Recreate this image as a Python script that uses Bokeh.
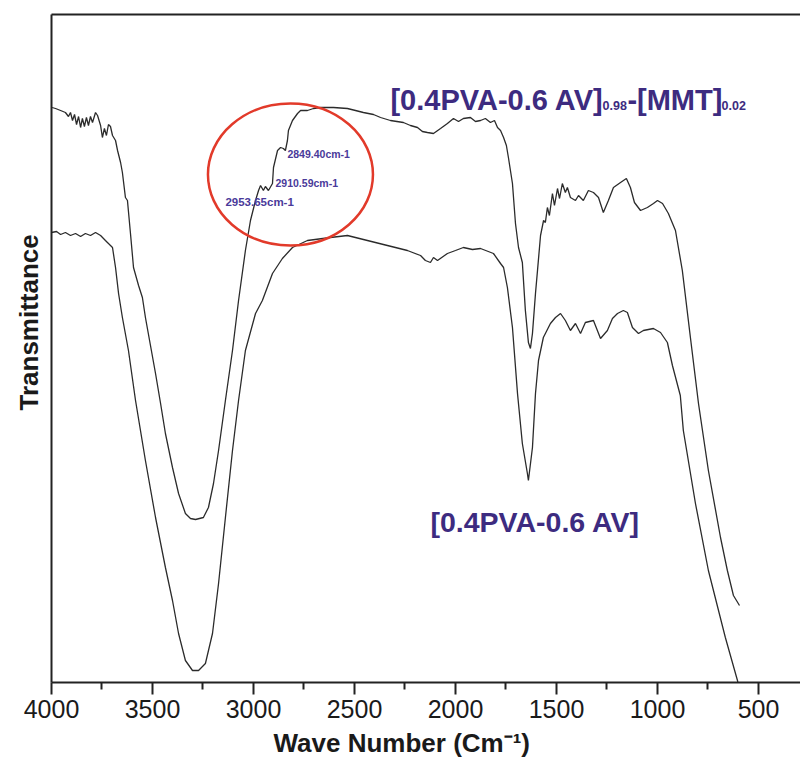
from bokeh.plotting import figure
from bokeh.models import Range1d, FixedTicker, LinearAxis, Label, Title
from bokeh.embed import file_html
from bokeh.resources import INLINE

# ---- data: wavenumber (cm-1) and transmittance (arbitrary units) ----
wn_composite = [3997, 3980, 3955, 3931, 3916, 3906, 3896, 3886, 3876, 3866, 3856, 3847, 3837, 3827,
                3817, 3807, 3797, 3782, 3772, 3757, 3748, 3738, 3728, 3718, 3708, 3698, 3683, 3673,
                3658, 3649, 3634, 3624, 3609, 3594, 3569, 3550, 3535, 3510, 3485, 3460, 3436, 3401,
                3371, 3337, 3312, 3287, 3248, 3223, 3198, 3173, 3139, 3104, 3074, 3040, 3015, 2990,
                2975, 2965, 2951, 2941, 2926, 2906, 2901, 2881, 2866, 2852, 2842, 2832, 2827, 2807,
                2782, 2767, 2733, 2703, 2668, 2604, 2535, 2495, 2456, 2406, 2371, 2322, 2258, 2223,
                2188, 2164, 2139, 2109, 2074, 2040, 2010, 1985, 1961, 1926, 1901, 1876, 1852, 1827,
                1807, 1792, 1777, 1762, 1748, 1738, 1728, 1718, 1703, 1688, 1669, 1654, 1639, 1629,
                1619, 1604, 1594, 1579, 1564, 1555, 1545, 1535, 1520, 1510, 1495, 1485, 1471, 1456,
                1446, 1431, 1406, 1391, 1367, 1342, 1317, 1292, 1268, 1243, 1218, 1183, 1154, 1134,
                1114, 1084, 1050, 1020, 1000, 975, 946, 911, 877, 837, 797, 748, 688, 654, 624, 594]
t_composite = [575, 574, 572, 570, 566, 570, 562, 568, 558, 566, 555, 564, 556, 565,
               557, 566, 560, 570, 567, 557, 545, 554, 547, 558, 556, 547, 542, 532,
               520, 510, 485, 482, 449, 415, 397, 385, 365, 337, 309, 279, 249, 215,
               189, 169, 164, 163, 165, 175, 199, 232, 282, 332, 382, 432, 462, 482,
               492, 497, 492, 496, 492, 499, 515, 532, 535, 534, 532, 542, 552, 562,
               569, 572, 572, 574, 575, 575, 574, 572, 570, 568, 565, 562, 560, 557,
               555, 551, 550, 549, 554, 559, 564, 561, 564, 565, 561, 562, 564, 560,
               562, 555, 552, 545, 537, 525, 512, 499, 459, 435, 420, 372, 340, 334,
               349, 389, 412, 447, 462, 460, 475, 467, 489, 477, 494, 484, 499, 490,
               495, 485, 482, 487, 482, 492, 490, 485, 470, 482, 495, 500, 504, 495,
               480, 472, 475, 479, 482, 479, 469, 452, 412, 345, 279, 212, 145, 112, 87, 77]

wn_pure = [4000, 3975, 3955, 3931, 3906, 3881, 3856, 3832, 3807, 3782, 3757, 3733, 3708, 3698,
           3683, 3668, 3649, 3619, 3584, 3535, 3485, 3436, 3401, 3371, 3337, 3302, 3272, 3238,
           3203, 3173, 3139, 3104, 3074, 3040, 2990, 2956, 2906, 2857, 2807, 2733, 2619, 2535,
           2436, 2337, 2238, 2173, 2149, 2124, 2109, 2089, 2040, 2000, 1961, 1916, 1876, 1812,
           1777, 1762, 1743, 1718, 1693, 1669, 1644, 1639, 1619, 1604, 1589, 1565, 1530, 1505,
           1480, 1456, 1431, 1406, 1381, 1357, 1317, 1282, 1248, 1223, 1198, 1169, 1149, 1124,
           1094, 1070, 1020, 985, 951, 926, 887, 872, 812, 748, 664, 604, 594]
t_pure = [450, 451, 448, 450, 447, 449, 446, 449, 447, 450, 447, 442, 437, 435,
          415, 389, 365, 332, 282, 222, 165, 115, 82, 49, 22, 12, 12, 19,
          49, 99, 165, 232, 282, 332, 369, 382, 409, 424, 435, 442, 445, 447,
          442, 437, 432, 427, 422, 420, 425, 422, 429, 432, 435, 433, 434, 429,
          419, 415, 395, 355, 289, 239, 209, 202, 235, 289, 322, 345, 359, 365,
          369, 362, 352, 359, 349, 360, 362, 344, 352, 364, 369, 372, 370, 355,
          349, 352, 354, 350, 340, 317, 287, 252, 179, 112, 45, 2, -8]

x_ticks = [4000, 3500, 3000, 2500, 2000, 1500, 1000, 500]
x_minor = [3750, 3250, 2750, 2250, 1750, 1250, 750]

peak_wn = [2832, 2891, 3139]
peak_t = [529, 500, 481]
peak_text = ["2849.40cm-1", "2910.59cm-1", "2953.65cm-1"]

circle_center = (2817, 508)

FONT = "Liberation Sans"
LABEL_COLOR = "#3d2b80"
INK = "#1a1a1a"

p = figure(width=800, height=770, x_range=Range1d(4000, 292), y_range=Range1d(0, 668),
           output_backend="svg", toolbar_location=None,
           min_border_left=51, min_border_right=0, min_border_top=14, min_border_bottom=88)
p.outline_line_color = None
p.grid.visible = False
p.background_fill_color = "white"
p.border_fill_color = "white"

# curves
p.line(wn_composite, t_composite, line_color="#2b2b2b", line_width=1.3)
p.line(wn_pure, t_pure, line_color="#2b2b2b", line_width=1.3)

# red circle
p.ellipse(x=[circle_center[0]], y=[circle_center[1]], width=165, height=142,
          width_units="screen", height_units="screen",
          fill_color=None, line_color="#e23a2a", line_width=2.5)

# bottom axis
xa = p.xaxis[0]
xa.ticker = FixedTicker(ticks=x_ticks, minor_ticks=x_minor)
xa.axis_line_width = 2
xa.axis_line_color = "#222222"
xa.major_tick_out = 12
xa.major_tick_in = 0
xa.minor_tick_out = 7
xa.minor_tick_in = 0
xa.major_tick_line_width = 2
xa.minor_tick_line_width = 2
xa.major_tick_line_color = "#222222"
xa.minor_tick_line_color = "#222222"
xa.major_label_text_font = FONT
xa.major_label_text_font_size = "25px"
xa.major_label_text_color = INK
xa.major_label_standoff = 5

# left axis
ya = p.yaxis[0]
ya.ticker = FixedTicker(ticks=[])
ya.axis_line_width = 2
ya.axis_line_color = "#222222"
ya.major_tick_out = 0
ya.minor_tick_out = 0
ya.major_label_text_font_size = "0px"

# top border
top = LinearAxis(ticker=FixedTicker(ticks=[]), axis_line_width=2, axis_line_color="#222222",
                 major_tick_out=0, minor_tick_out=0, major_label_text_font_size="0px")
p.add_layout(top, "above")

# axis titles
xt = Title(text="Wave Number (Cm\u207b\u00b9)", text_font=FONT, text_font_size="26px",
           text_font_style="bold", text_color=INK, align="left", offset=222, standoff=11)
p.add_layout(xt, "below")
yt = Title(text="Transmittance", text_font=FONT, text_font_size="26px",
           text_font_style="bold", text_color=INK, align="left", offset=272, standoff=15)
p.add_layout(yt, "left")

# peak annotations
for wn, t, txt, fs in zip(peak_wn, peak_t, peak_text, ["10.5px", "10.5px", "11.5px"]):
    p.add_layout(Label(x=wn, y=t, text=txt, text_font=FONT, text_font_size=fs,
                       text_font_style="bold", text_color="#4a3a9a", text_baseline="middle"))

# series labels
def lab(x, y, txt, size):
    p.add_layout(Label(x=x, y=y, text=txt, text_font=FONT, text_font_size=size,
                       text_font_style="bold", text_color=LABEL_COLOR, text_baseline="alphabetic"))

lab(2322, 583, "[0.4PVA-0.6 AV]", "29px")
lab(1272, 577, "0.98", "12.5px")
lab(1149, 583, "-[MMT]", "29px")
lab(683, 577, "0.02", "12.5px")
lab(2124, 161, "[0.4PVA-0.6 AV]", "28.5px")

open("out.html", "w").write(file_html(p, INLINE))
